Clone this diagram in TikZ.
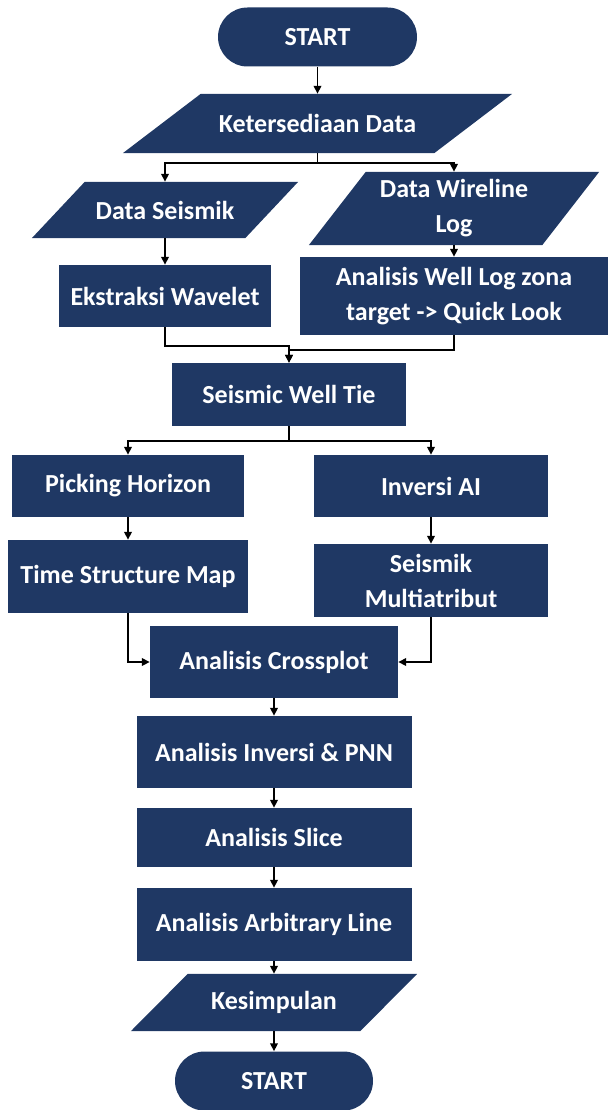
\documentclass[tikz,border=0pt]{standalone}
\usepackage{fontspec}
\setmainfont{Carlito}
\usetikzlibrary{calc,backgrounds,arrows.meta}
\definecolor{navy}{HTML}{1F3864}
\newcommand*{\boxfont}{\fontsize{26}{35}\selectfont\bfseries}
\newcommand*{\lw}{1.8pt}

\begin{document}
\begin{tikzpicture}[x=1pt, y=-1pt,
    box/.style   = {text=white, font=\boxfont, align=center, inner sep=0pt},
    proc/.style  = {box, fill=navy, rectangle},
    term/.style  = {box, fill=navy, rectangle, rounded corners=29.5pt, minimum width=199, minimum height=59},
    data/.style  = {box, rectangle},
    arr/.style   = {line width=\lw, -{Triangle[length=8pt,width=7.5pt]}}]
    \useasboundingbox (0,0) rectangle (608,1110);

    \node [term] (start1) at (317.5,37) {START};
    \node [data, minimum width=311, minimum height=59] (ket)   at (317.5,123.5) {Ketersediaan Data};
    \node [data, minimum width=213, minimum height=56] (dseis) at (165,210)     {Data Seismik};
    \node [data, minimum width=233, minimum height=73] (dwire) at (454,208.5)   {Data Wireline\\Log};
    \node [proc, minimum width=212, minimum height=62] (ekst)  at (165,296)   {Ekstraksi Wavelet};
    \node [proc, minimum width=308, minimum height=78] (wlog)  at (454,296)   {Analisis Well Log zona\\target -> Quick Look};
    \node [proc, minimum width=234, minimum height=63] (swt)   at (289,394.5) {Seismic Well Tie};
    \node [proc, minimum width=232, minimum height=62] (pick)  at (128,486)   {Picking Horizon};
    \node [proc, minimum width=234, minimum height=62] (inv)   at (431,486)   {Inversi AI};
    \node [proc, minimum width=240, minimum height=73] (tsm)   at (128,576.5) {Time Structure Map};
    \node [proc, minimum width=234, minimum height=73] (multi) at (431,580.5) {Seismik\\Multiatribut};
    \node [proc, minimum width=248, minimum height=72] (cross) at (274,662)   {Analisis Crossplot};
    \node [proc, minimum width=275, minimum height=72] (pnn)   at (274,752)   {Analisis Inversi \& PNN};
    \node [proc, minimum width=275, minimum height=59] (slice) at (274,837.5) {Analisis Slice};
    \node [proc, minimum width=275, minimum height=73] (arb)   at (274,924.5) {Analisis Arbitrary Line};
    \node [data, minimum width=229, minimum height=57] (kes)   at (274,1002.5) {Kesimpulan};
    \node [term, minimum width=198] (start2) at (274,1081) {START};

    % parallelograms behind the data nodes (half slant per node)
    \begin{scope}[on background layer]
        \foreach \n/\s in {ket/39, dseis/26.5, dwire/28.5, kes/28.5}
            \fill [navy] ($(\n.north west)+(\s,0)$) -- ($(\n.north east)+(\s,0)$)
                      -- ($(\n.south east)-(\s,0)$) -- ($(\n.south west)-(\s,0)$) -- cycle;
    \end{scope}

    % straight links
    \foreach \a/\b in {start1/ket, dseis/ekst, dwire/wlog, pick/tsm, inv/multi,
                       cross/pnn, pnn/slice, slice/arb, arb/kes, kes/start2}
        \draw [arr] (\a) -- (\b);

    % branches and joins
    \draw [arr] (ket.south) -- ++(0,10) -| (dseis.north);
    \draw [arr] (ket.south) -- ++(0,10) -| (dwire.north);
    \draw [arr] (ekst.south) -- ++(0,19) -| (swt.north);
    \draw [arr] (wlog.south) -- ++(0,15) -| (swt.north);
    \draw [arr] (swt.south) -- ++(0,15) -| (pick.north);
    \draw [arr] (swt.south) -- ++(0,15) -| (inv.north);
    \draw [arr] (tsm.south) |- (cross.west);
    \draw [arr] (multi.south) |- (cross.east);
\end{tikzpicture}
\end{document}
